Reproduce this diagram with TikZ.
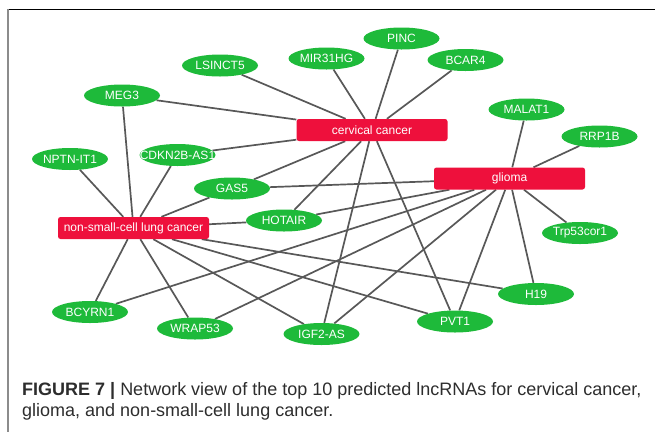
\documentclass[tikz,border=0pt]{standalone}
\usepackage{fontspec}
\setmainfont{Liberation Sans}
\usetikzlibrary{shapes.geometric,backgrounds}
\definecolor{ngreen}{RGB}{30,186,58}
\definecolor{nred}{RGB}{238,16,60}
\definecolor{edgec}{RGB}{88,88,88}
\definecolor{capc}{RGB}{45,45,45}
\definecolor{framel}{RGB}{140,140,140}
\begin{document}
\begin{tikzpicture}[x=1pt,y=-1pt,
  lnc/.style={ellipse, fill=ngreen, draw=none, minimum width=76pt, minimum height=22pt, inner sep=0pt},
  dis/.style={rectangle, rounded corners=2.5pt, fill=nred, text=white, minimum width=151pt, minimum height=22pt, inner sep=0pt, font=\fontsize{12}{14}\selectfont},
  lbl/.style={text=white, font=\fontsize{12}{14}\selectfont, inner sep=0pt},
  conn/.style={draw=edgec, line width=1.7pt},
  captxt/.style={anchor=base west, inner sep=0pt, text=capc, font=\fontsize{18}{21}\selectfont}]
\useasboundingbox (0,0) rectangle (655,432);
\draw[black, line width=1pt] (7.5,9.5) -- (655,9.5);
\draw[framel, line width=2pt] (8,9) -- (8,432);

% disease nodes
\node[dis] (cc) at (372,130) {cervical cancer};
\node[dis] (gl) at (509.5,178.5) {glioma};
\node[dis] (ns) at (133.5,228) {non-small-cell lung cancer};

% lncRNA nodes
\node[lnc, label={[lbl]center:LSINCT5}] (lsinct) at (220,65.5) {};
\node[lnc, label={[lbl]center:MEG3}] (meg) at (122,95.5) {};
\node[lnc, label={[lbl]center:NPTN-IT1}] (nptn) at (70,159) {};
\node[lnc, label={[lbl]center:CDKN2B-AS1}] (cdkn) at (177.5,155) {};
\node[lnc, label={[lbl]center:GAS5}] (gas) at (232,188.5) {};
\node[lnc, label={[lbl]center:HOTAIR}] (hot) at (284,220.5) {};
\node[lnc, label={[lbl]center:MIR31HG}] (mir) at (326.5,58.5) {};
\node[lnc, label={[lbl]center:PINC}] (pinc) at (401.5,38.5) {};
\node[lnc, label={[lbl]center:BCAR4}] (bcar) at (465.5,60) {};
\node[lnc, label={[lbl]center:MALAT1}] (malat) at (526.5,109.5) {};
\node[lnc, label={[lbl]center:RRP1B}] (rrp) at (599.5,136.5) {};
\node[lnc, label={[lbl]center:Trp53cor1}] (trp) at (580,233) {};
\node[lnc, label={[lbl]center:H19}] (h19) at (536,294) {};
\node[lnc, label={[lbl]center:PVT1}] (pvt) at (455,321.5) {};
\node[lnc, label={[lbl]center:IGF2-AS}] (igf) at (321.5,334) {};
\node[lnc, label={[lbl]center:WRAP53}] (wrap) at (195,328.5) {};
\node[lnc, label={[lbl]center:BCYRN1}] (bcy) at (90,312) {};

% connectors
\begin{scope}[on background layer]
\foreach \t in {lsinct,meg,mir,pinc,bcar,cdkn,gas,hot,igf,pvt}
  \draw[conn] (cc) -- (\t);
\foreach \t in {malat,rrp,gas,trp,h19,pvt,hot,igf,wrap,bcy}
  \draw[conn] (gl) -- (\t);
\foreach \t in {meg,nptn,cdkn,gas,hot,bcy,wrap,igf,pvt,h19}
  \draw[conn] (ns) -- (\t);
\end{scope}

% caption
\node[captxt] (cap1) at (22,395) {\textbf{FIGURE 7 |} Network view of the top 10 predicted lncRNAs for cervical cancer,};
\node[captxt] (cap2) at (22,416) {glioma, and non-small-cell lung cancer.};
\end{tikzpicture}
\end{document}
